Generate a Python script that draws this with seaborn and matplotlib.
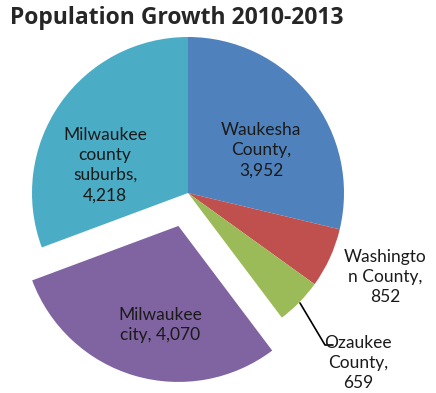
import matplotlib
matplotlib.use("Agg")
import matplotlib.pyplot as plt
import seaborn as sns

# data
areas = ["Waukesha\nCounty", "Washingto\nn County", "Ozaukee\nCounty", "Milwaukee\ncity", "Milwaukee\ncounty\nsuburbs"]
growth = [3952, 852, 659, 4070, 4218]
colors = ["#4F81BD", "#C0504D", "#9BBB59", "#8064A2", "#4BACC6"]
explode_frac = [0, 0, 0, 0.22, 0]

sns.set_style("white")
plt.rcParams["font.family"] = ["Lato", "DejaVu Sans"]

fig = plt.figure(figsize=(4.36, 3.93), dpi=100)
ax = fig.add_axes([0, 0, 1, 1])

radius = 156
wedges, _ = ax.pie(growth, colors=colors, explode=[e * radius for e in explode_frac],
                   startangle=90, counterclock=False, center=(188, 200), radius=radius,
                   wedgeprops=dict(linewidth=0), frame=True)
ax.set_xlim(0, 436)
ax.set_ylim(0, 393)
ax.set_aspect("equal")
ax.axis("off")

# label positions (pixel space, y up)
label_pos = [(261, 243), (385, 116), (358, 30), (160, 68), (105, 228)]
seps = [",\n", ",\n", ",\n", ", ", ",\n"]
for name, val, sep, (x, y) in zip(areas, growth, seps, label_pos):
    ax.text(x, y, f"{name}{sep}{val:,}", ha="center", va="center",
            fontsize=12.5, color="#1a1a1a", linespacing=1.32)

# leader line for Ozaukee
ax.plot([300, 325, 333], [90, 48, 48], color="black", lw=1.2)

fig.text(0.023, 0.955, "Population Growth 2010-2013", fontsize=16.5,
         fontweight="bold", family=["Open Sans", "DejaVu Sans"], va="center")

fig.savefig("out.png", dpi=100)
